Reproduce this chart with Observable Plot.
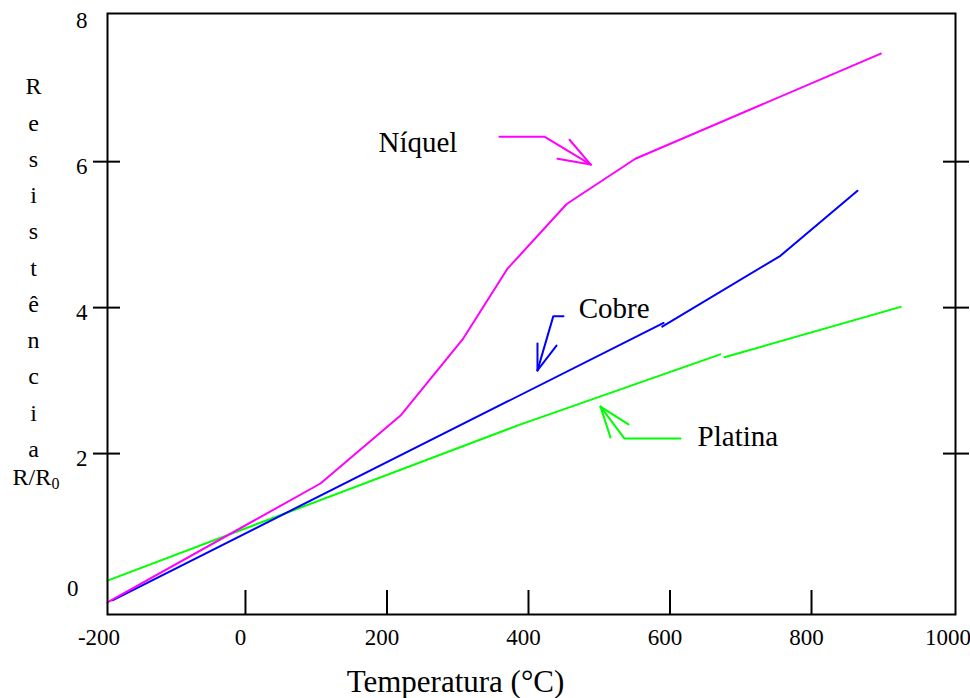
<!DOCTYPE html>
<html><head><meta charset="utf-8">
<script src="https://cdn.jsdelivr.net/npm/d3@7"></script>
<script src="https://cdn.jsdelivr.net/npm/@observablehq/plot@0.6"></script>
<style>html,body{margin:0;padding:0;background:#fff}#chart svg{display:block}</style>
</head><body><div id="chart"></div>
<script>
// ---- data (temperature °C, resistance ratio R/R0) ----
const nickelT = [-195, 106, 220, 308, 370, 454, 551, 898];
const nickelR = [-0.04, 1.59, 2.53, 3.58, 4.53, 5.42, 6.04, 7.48];

const copperT1 = [-188, 591];
const copperR1 = [-0.01, 3.79];
const copperT2 = [589, 756, 865];
const copperR2 = [3.74, 4.71, 5.60];

const platinumT1 = [-195, 389, 671];
const platinumR1 = [0.26, 2.40, 3.36];
const platinumT2 = [677, 926];
const platinumR2 = [3.32, 4.01];

// annotation arrows (data coordinates)
const nickelArrowT = [359, 423, 488], nickelArrowR = [6.34, 6.34, 5.96];
const nickelHead1T = [458, 488], nickelHead1R = [6.30, 5.96];
const nickelHead2T = [441, 488], nickelHead2R = [6.04, 5.96];

const copperArrowT = [449.5, 435, 412.7], copperArrowR = [3.88, 3.88, 3.14];
const copperHead1T = [412.7, 412.7], copperHead1R = [3.51, 3.14];
const copperHead2T = [439.6, 412.7], copperHead2R = [3.48, 3.14];

const platinumArrowT = [614.8, 535.7, 501.8], platinumArrowR = [2.205, 2.205, 2.644];
const platinumHead1T = [515.9, 501.8], platinumHead1R = [2.22, 2.644];
const platinumHead2T = [541.3, 501.8], platinumHead2R = [2.40, 2.644];

const labelNames = ["Níquel", "Cobre", "Platina"];
const labelT = [188, 471, 639];
const labelR = [6.26, 3.99, 2.23];

const xTickLabels = [-200, 0, 200, 400, 600, 800, 1000];
const xTickMarks = [0, 200, 400, 600, 800];
const yTickLabels = [2, 4, 6, 8];
const yZeroLabel = [0];
const yTickMarks = [2, 4, 6];

const xTitle = "Temperatura (°C)";
const yTitleLetters = ["R", "e", "s", "i", "s", "t", "ê", "n", "c", "i", "a"];
const yTitleRatio = "R/R";
const yTitleSub = "0";

// ---- helpers ----
const rows = (ts, rs, seg) => ts.map((t, i) => ({t, r: rs[i], seg}));

const nickel = rows(nickelT, nickelR, "n");
const copper = [...rows(copperT1, copperR1, "c1"), ...rows(copperT2, copperR2, "c2")];
const platinum = [...rows(platinumT1, platinumR1, "p1"), ...rows(platinumT2, platinumR2, "p2")];

const nickelArrow = [...rows(nickelArrowT, nickelArrowR, "a"), ...rows(nickelHead1T, nickelHead1R, "b"), ...rows(nickelHead2T, nickelHead2R, "c")];
const copperArrow = [...rows(copperArrowT, copperArrowR, "a"), ...rows(copperHead1T, copperHead1R, "b"), ...rows(copperHead2T, copperHead2R, "c")];
const platinumArrow = [...rows(platinumArrowT, platinumArrowR, "a"), ...rows(platinumHead1T, platinumHead1R, "b"), ...rows(platinumHead2T, platinumHead2R, "c")];

const labels = labelNames.map((name, i) => ({name, t: labelT[i], r: labelR[i]}));

const MAG = "#ff00ff", BLUE = "#0000ff", GREEN = "#00ff00";
const FONT = "Liberation Serif";

const chart = Plot.plot({
  width: 970,
  height: 698,
  marginLeft: 107,
  marginRight: 15,
  marginTop: 13,
  marginBottom: 84,
  style: {fontFamily: FONT, background: "white", color: "black", overflow: "visible"},
  x: {domain: [-195, 1003.5], axis: null, label: null},
  y: {domain: [-0.205, 8.03], axis: null, label: null},
  marks: [
    // tick labels
    Plot.axisX(xTickLabels, {anchor: "bottom", tickSize: 0, tickPadding: 14, dx: -5, fontSize: 23, fontFamily: FONT, fontVariant: "normal", tickFormat: d => String(d), label: null}),
    Plot.axisY(yTickLabels, {anchor: "left", tickSize: 0, tickPadding: 20, dy: 5, fontSize: 23, fontFamily: FONT, fontVariant: "normal", tickFormat: d => String(d), label: null}),
    Plot.axisY(yZeroLabel, {anchor: "left", tickSize: 0, tickPadding: 29, dy: -11, fontSize: 23, fontFamily: FONT, fontVariant: "normal", tickFormat: d => String(d), label: null}),
    // tick marks
    Plot.axisX(xTickMarks, {anchor: "top", tickSize: 25, dy: 601, strokeWidth: 2, tickFormat: () => "", label: null}),
    Plot.axisY(yTickMarks, {anchor: "left", tickSize: 27, dx: 13, strokeWidth: 2, tickFormat: () => "", label: null}),
    Plot.axisY(yTickMarks, {anchor: "right", tickSize: 26, dx: -13, strokeWidth: 2, tickFormat: () => "", label: null}),
    // curves
    Plot.line(platinum, {x: "t", y: "r", z: "seg", stroke: GREEN, strokeWidth: 2}),
    Plot.line(copper, {x: "t", y: "r", z: "seg", stroke: BLUE, strokeWidth: 2}),
    Plot.line(nickel, {x: "t", y: "r", z: "seg", stroke: MAG, strokeWidth: 2}),
    // annotation arrows
    Plot.line(nickelArrow, {x: "t", y: "r", z: "seg", stroke: MAG, strokeWidth: 2}),
    Plot.line(copperArrow, {x: "t", y: "r", z: "seg", stroke: BLUE, strokeWidth: 2}),
    Plot.line(platinumArrow, {x: "t", y: "r", z: "seg", stroke: GREEN, strokeWidth: 2}),
    Plot.text(labels, {x: "t", y: "r", text: "name", textAnchor: "start", lineAnchor: "middle", fontSize: 29, fontFamily: FONT, fill: "black"}),
    // axis titles
    Plot.text([xTitle], {frameAnchor: "bottom", textAnchor: "middle", dx: -76, dy: 68, lineAnchor: "middle", fontSize: 31, fontFamily: FONT, fill: "black"}),
    Plot.text([yTitleLetters.join("\n")], {frameAnchor: "left", textAnchor: "middle", dx: -74, dy: -50, lineAnchor: "middle", lineHeight: 1.51, fontSize: 24, fontFamily: FONT, fill: "black"}),
    Plot.text([yTitleRatio], {frameAnchor: "left", dx: -95, dy: 163, textAnchor: "start", lineAnchor: "middle", fontSize: 24, fontFamily: FONT, fill: "black"}),
    Plot.text([yTitleSub], {frameAnchor: "left", dx: -56, dy: 170, textAnchor: "start", lineAnchor: "middle", fontSize: 16, fontFamily: FONT, fill: "black"}),
    // frame
    Plot.frame({stroke: "black", strokeWidth: 2})
  ]
});
document.getElementById("chart").appendChild(chart);
</script>
</body></html>
